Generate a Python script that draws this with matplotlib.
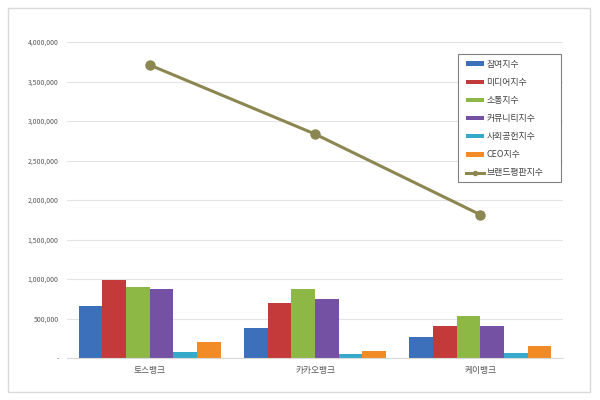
import numpy as np
import matplotlib.pyplot as plt
from matplotlib.patches import Rectangle
from matplotlib.ticker import FuncFormatter

plt.rcParams['font.family'] = ['Noto Sans CJK KR', 'DejaVu Sans']

banks = ['토스뱅크', '카카오뱅크', '케이뱅크']
series_names = ['참여지수', '미디어지수', '소통지수', '커뮤니티지수', '사회공헌지수', 'CEO지수']
participation = [662000, 380000, 266000]
media = [983000, 692000, 401000]
communication = [899000, 873000, 528000]
community = [873000, 743000, 409000]
social = [80000, 50000, 60000]
ceo = [199000, 89000, 156000]
brand = [3709000, 2835000, 1814000]
line_name = '브랜드평판지수'

colors = ['#3C70BA', '#C4393A', '#8DB845', '#7451A2', '#34A9C9', '#F28B25']
line_color = '#8C8651'

fig = plt.figure(figsize=(6, 4), dpi=100)
# outer chart frame
fig.patches.append(Rectangle((8/600, 8/400), 582/600, 384/400, transform=fig.transFigure,
                             fill=False, edgecolor='#D9D9D9', linewidth=1))
ax = fig.add_axes([67/600, 1-358/400, 496/600, 316/400])

x = np.arange(len(banks))
values = [participation, media, communication, community, social, ceo]
n = len(values)
w = 0.143
handles = []
for i, (vals, name, c) in enumerate(zip(values, series_names, colors)):
    b = ax.bar(x + (i - (n-1)/2) * w, vals, w, color=c, label=name, zorder=2)
    handles.append(b)

ln, = ax.plot(x, brand, color=line_color, linewidth=2.2, marker='o', markersize=6.5,
              label=line_name, zorder=3)
handles.append(ln)

ax.set_xlim(-0.5, 2.5)
ax.set_ylim(0, 4000000)
ax.set_yticks(np.arange(0, 4000001, 500000))
ax.yaxis.set_major_formatter(FuncFormatter(lambda v, p: '-' if v == 0 else f'{int(v):,}'))
ax.set_xticks(x)
ax.set_xticklabels(banks)
ax.tick_params(axis='y', length=0, labelsize=5, labelcolor='#595959', pad=6)
ax.tick_params(axis='x', length=0, labelsize=6.3, labelcolor='#595959', pad=6)
ax.grid(axis='y', color='#E3E3E3', linewidth=0.8, zorder=0)
for s in ['top', 'right', 'left']:
    ax.spines[s].set_visible(False)
ax.spines['bottom'].set_color('#D9D9D9')

# legend box drawn separately so its size matches the original
box = Rectangle((458/600, 1-182/400), 103/600, 128/400, transform=fig.transFigure,
                facecolor='white', edgecolor='#808080', linewidth=0.8, zorder=4,
                clip_on=False)
ax.add_artist(box)
leg = ax.legend(handles=handles, labels=series_names + [line_name],
                loc='upper left', bbox_to_anchor=((458-67)/496, (358-52)/316),
                fontsize=6.4, frameon=False, labelspacing=1.02,
                handlelength=2.0, handleheight=0.45, borderpad=0.9, handletextpad=0.3,
                borderaxespad=0, markerscale=0.45, labelcolor='#404040')
leg.set_zorder(5)

fig.savefig('out.png', dpi=100)
